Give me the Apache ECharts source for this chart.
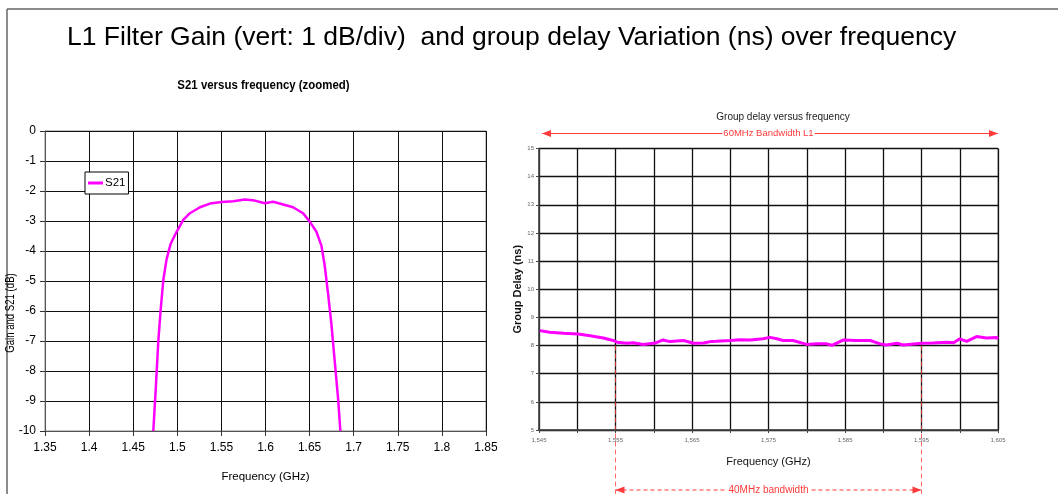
<!DOCTYPE html>
<html><head><meta charset="utf-8">
<script src="https://cdn.jsdelivr.net/npm/echarts@6/dist/echarts.min.js"></script>
<style>html,body{margin:0;padding:0;background:#fff}#c{width:1058px;height:494px}</style>
</head><body><div id="c"></div>
<script>
// ---- data ----
const mainTitle = 'L1 Filter Gain (vert: 1 dB/div)  and group delay Variation (ns) over frequency';
const leftTitle = 'S21 versus frequency (zoomed)';
const rightTitle = 'Group delay versus frequency';
const leftYName = 'Gain and S21 (dB)';
const s21Freq = [1.4728, 1.4758, 1.4785, 1.4811, 1.4842, 1.4879, 1.4925, 1.4992, 1.5068, 1.5143, 1.5257, 1.5370, 1.5502, 1.5634, 1.5766, 1.5879, 1.5992, 1.6087, 1.6200, 1.6313, 1.6426, 1.6502, 1.6577, 1.6634, 1.6672, 1.6709, 1.6747, 1.6785, 1.6823, 1.6849];
const s21Gain = [-10, -8.47, -6.99, -5.97, -4.95, -4.27, -3.76, -3.36, -2.96, -2.74, -2.54, -2.42, -2.37, -2.34, -2.28, -2.32, -2.41, -2.36, -2.45, -2.54, -2.74, -3.02, -3.36, -3.82, -4.50, -5.41, -6.43, -7.68, -8.92, -10];
const gdFreq = [1.5451, 1.5464, 1.5482, 1.5501, 1.5517, 1.5534, 1.5547, 1.5552, 1.5565, 1.5573, 1.5586, 1.5602, 1.5612, 1.5621, 1.5630, 1.5639, 1.5652, 1.5665, 1.5674, 1.5682, 1.5700, 1.5713, 1.5726, 1.5743, 1.5752, 1.5761, 1.5769, 1.5782, 1.5800, 1.5813, 1.5826, 1.5833, 1.5848, 1.5865, 1.5883, 1.5896, 1.5904, 1.5918, 1.5926, 1.5950, 1.5965, 1.5983, 1.5992, 1.6000, 1.6009, 1.6022, 1.6035, 1.6048, 1.6050];
const gdDelay = [8.53, 8.47, 8.44, 8.41, 8.35, 8.27, 8.18, 8.12, 8.08, 8.10, 8.04, 8.09, 8.20, 8.14, 8.16, 8.18, 8.08, 8.09, 8.14, 8.15, 8.18, 8.21, 8.20, 8.24, 8.29, 8.24, 8.18, 8.18, 8.04, 8.06, 8.06, 8.01, 8.20, 8.18, 8.18, 8.06, 8.02, 8.08, 8.02, 8.08, 8.09, 8.12, 8.10, 8.24, 8.15, 8.32, 8.27, 8.29, 8.24];
const bw60Label = '60MHz Bandwidth L1';
const bw40Label = '40MHz bandwidth';
const bw40Start = 1.555, bw40End = 1.595, bw40Level = 8;

// ---- chart ----
const SF = "'Liberation Sans',Arial,sans-serif";
const chart = echarts.init(document.getElementById('c'), null, {renderer: 'canvas'});
const gridLine = {show: true, lineStyle: {color: '#111', width: 1}};
const option = {
  animation: false,
  backgroundColor: '#fff',
  title: [
    {text: mainTitle, left: 62, top: 19, textStyle: {fontFamily: SF, fontSize: 26.5, fontWeight: 'normal', color: '#000'}},
    {text: rightTitle, left: 778, top: 107, textAlign: 'center', textStyle: {fontFamily: SF, fontSize: 10, fontWeight: 'normal', color: '#222'}}
  ],
  legend: {
    data: ['S21'], left: 85, top: 172, orient: 'vertical',
    backgroundColor: '#fff', borderColor: '#000', borderWidth: 1, padding: [5, 3, 5, 3],
    icon: 'rect', itemWidth: 15, itemHeight: 3, itemGap: 2,
    textStyle: {fontFamily: SF, fontSize: 11.5, color: '#000', padding: [0, 0, 0, -3]}
  },
  grid: [
    {left: 45, top: 131, width: 441, height: 300, show: true, borderColor: '#888', borderWidth: 1, containLabel: false},
    {left: 539, top: 148.5, width: 459, height: 281.5, show: true, borderColor: '#888', borderWidth: 1, containLabel: false}
  ],
  xAxis: [
    {type: 'value', gridIndex: 0, min: 1.35, max: 1.85, interval: 0.05,
     name: 'Frequency (GHz)', nameLocation: 'middle', nameGap: 40,
     nameTextStyle: {fontFamily: SF, fontSize: 11.5, color: '#000'},
     axisLine: {show: true, onZero: false, lineStyle: {color: '#555', width: 1}},
     axisTick: {show: true, length: 5, lineStyle: {color: '#333'}},
     axisLabel: {fontFamily: SF, fontSize: 12, color: '#000', margin: 11, formatter: v => String(+v.toFixed(2))},
     splitLine: gridLine},
    {type: 'value', gridIndex: 1, min: 1.545, max: 1.605, interval: 0.005,
     name: 'Frequency (GHz)', nameLocation: 'middle', nameGap: 26,
     nameTextStyle: {fontFamily: SF, fontSize: 11, color: '#111'},
     axisLine: {show: true, onZero: false, lineStyle: {color: '#444', width: 1.5}},
     axisTick: {show: true, length: 3, lineStyle: {color: '#444'}},
     axisLabel: {fontFamily: SF, fontSize: 6, color: '#666', margin: 7,
       formatter: v => { const k = Math.round((v - 1.545) / 0.005); return k % 2 === 0 ? v.toFixed(3).replace('.', ',') : ''; }},
     splitLine: {show: true, lineStyle: {color: '#111', width: 1.3}}}
  ],
  yAxis: [
    {type: 'value', gridIndex: 0, min: -10, max: 0, interval: 1,
     axisLine: {show: true, onZero: false, lineStyle: {color: '#555', width: 1}},
     axisTick: {show: true, length: 5, lineStyle: {color: '#333'}},
     axisLabel: {fontFamily: SF, fontSize: 12, color: '#000', margin: 9},
     splitLine: gridLine},
    {type: 'value', gridIndex: 1, min: 5, max: 15, interval: 1,
     name: 'Group Delay (ns)', nameLocation: 'middle', nameGap: 15,
     nameTextStyle: {fontFamily: SF, fontSize: 11, fontWeight: 'bold', color: '#111'},
     axisLine: {show: true, onZero: false, lineStyle: {color: '#444', width: 1.5}},
     axisTick: {show: true, length: 3, lineStyle: {color: '#444'}},
     axisLabel: {fontFamily: SF, fontSize: 6, color: '#666', margin: 5},
     splitLine: {show: true, lineStyle: {color: '#111', width: 1.3}}}
  ],
  series: [
    {name: 'S21', type: 'line', xAxisIndex: 0, yAxisIndex: 0, showSymbol: false, symbol: 'none',
     data: s21Freq.map((f, i) => [f, s21Gain[i]]), clip: true,
     lineStyle: {color: '#ff00ff', width: 2.5}, itemStyle: {color: '#ff00ff'}},
    {name: 'Group delay', type: 'line', xAxisIndex: 1, yAxisIndex: 1, showSymbol: false, symbol: 'none',
     data: gdFreq.map((f, i) => [f, gdDelay[i]]), clip: true,
     lineStyle: {color: '#ff00ff', width: 3}, itemStyle: {color: '#ff00ff'}}
  ]
};
chart.setOption(option);

// annotations positioned through the chart's own scales
const px = (x, y) => chart.convertToPixel({gridIndex: 1}, [x, y]);
const red = '#ff3b3b';
const [xa, yTop] = px(1.545, 15);
const [xb] = px(1.605, 15);
const [x1, yLvl] = px(bw40Start, bw40Level);
const [x2] = px(bw40End, bw40Level);
const yA = yTop - 15, yB = 490;
const arrowHead = (x, y, dir) => ({type: 'polygon', shape: {points: [[x, y], [x - dir * 9, y - 3.5], [x - dir * 9, y + 3.5]]}, style: {fill: red}});
const [lx0, lyTop] = chart.convertToPixel({gridIndex: 0}, [1.35, 0]);
const [lx1, lyMid] = chart.convertToPixel({gridIndex: 0}, [1.85, -6]);
const graphic = [
  {type: 'line', shape: {x1: 7, y1: 9, x2: 1058, y2: 9}, style: {stroke: '#666', lineWidth: 1.5}},
  {type: 'line', shape: {x1: 7, y1: 9, x2: 7, y2: 494}, style: {stroke: '#666', lineWidth: 1.5}},
  {type: 'text', x: (lx0 + lx1) / 2 - 2, y: lyTop - 46, scaleX: 0.88, originX: 0, originY: 0,
   style: {text: leftTitle, font: 'bold 13px ' + SF, fill: '#000', align: 'center', verticalAlign: 'middle'}},
  {type: 'text', x: 11, y: lyMid + 2, rotation: Math.PI / 2, scaleX: 0.8,
   style: {text: leftYName, font: '12px ' + SF, fill: '#000', align: 'center', verticalAlign: 'middle'}},
  {type: 'line', shape: {x1: xa + 3, y1: yA, x2: xb, y2: yA}, style: {stroke: red, lineWidth: 1}},
  arrowHead(xa + 3, yA, -1), arrowHead(xb, yA, 1),
  {type: 'text', x: (xa + xb) / 2, y: yA, style: {text: bw60Label, font: '9.5px ' + SF, fill: red, align: 'center', verticalAlign: 'middle', backgroundColor: '#fff', padding: [0, 1]}},
  {type: 'line', shape: {x1: x1, y1: yLvl, x2: x1, y2: 494}, style: {stroke: red, lineWidth: 1, lineDash: [5, 3], opacity: 0.75}},
  {type: 'line', shape: {x1: x2, y1: yLvl, x2: x2, y2: 494}, style: {stroke: red, lineWidth: 1, lineDash: [5, 3], opacity: 0.75}},
  {type: 'line', shape: {x1: x1, y1: yB, x2: x2, y2: yB}, style: {stroke: red, lineWidth: 1, lineDash: [4, 3]}},
  arrowHead(x1, yB, -1), arrowHead(x2, yB, 1),
  {type: 'text', x: (x1 + x2) / 2, y: yB, style: {text: bw40Label, font: '10px ' + SF, fill: red, align: 'center', verticalAlign: 'middle', backgroundColor: '#fff', padding: [0, 1]}}
];
chart.setOption({graphic: graphic});
</script></body></html>
